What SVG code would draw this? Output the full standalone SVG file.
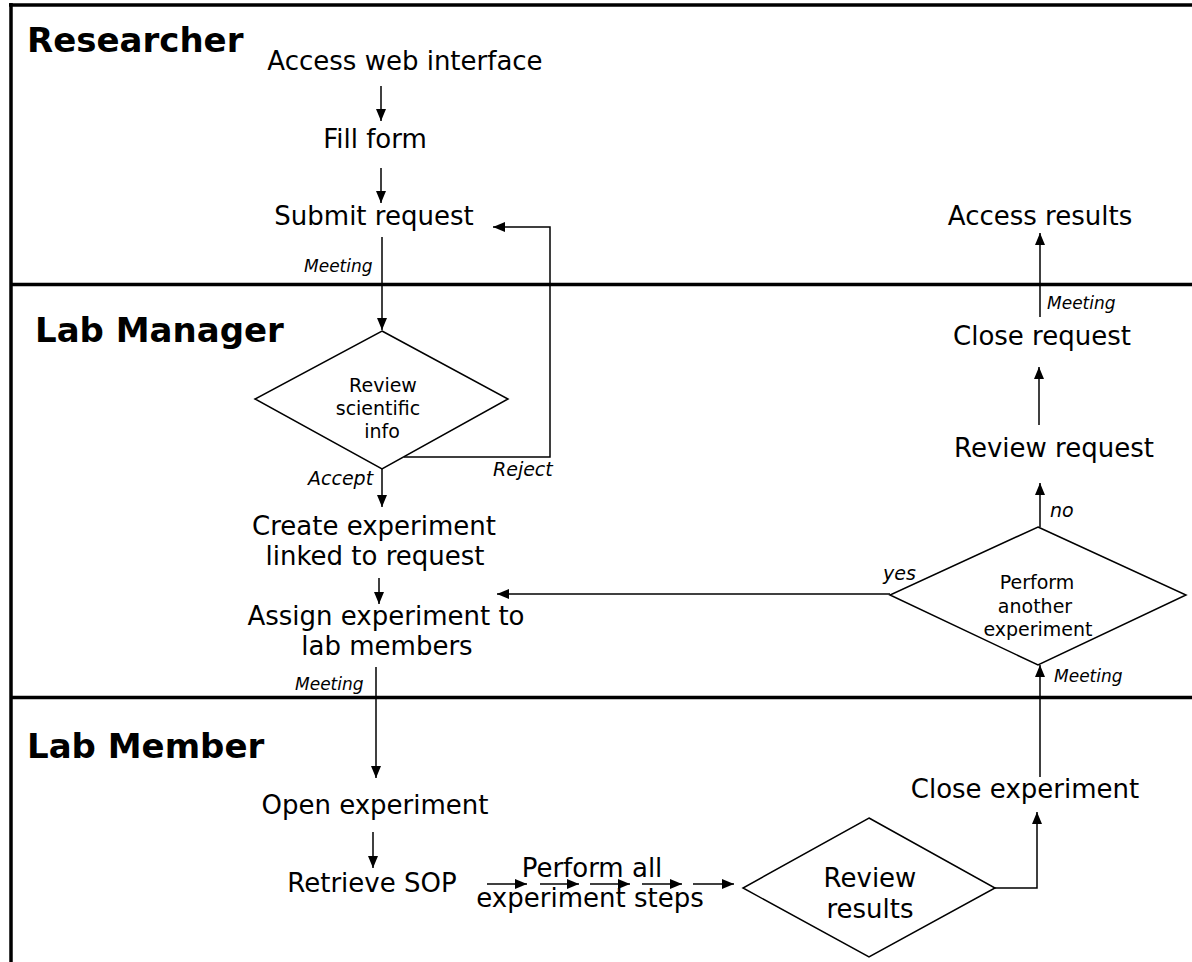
<svg xmlns="http://www.w3.org/2000/svg" width="1192" height="962" viewBox="0 0 1192 962">
<style>
  .lane { font-family: "DejaVu Sans", sans-serif; font-weight: bold; font-size: 34px; fill: #000; }
  .t { font-family: "DejaVu Sans", sans-serif; font-size: 26px; fill: #000; text-anchor: middle; }
  .d { font-family: "DejaVu Sans", sans-serif; font-size: 19px; fill: #000; text-anchor: middle; }
  .lbl { font-family: "DejaVu Sans", sans-serif; font-style: italic; font-size: 19px; fill: #000; }
  .mt { font-family: "DejaVu Sans", sans-serif; font-style: italic; font-size: 17px; fill: #000; }
  .sep { stroke: #000; stroke-width: 3.5; fill: none; }
  .shape { fill: #fff; stroke: #000; stroke-width: 1.5; }
  .c { stroke: #000; stroke-width: 1.5; fill: none; }
  .ca { stroke: #000; stroke-width: 1.5; fill: none; marker-end: url(#ah); }
</style>
<defs>
  <marker id="ah" viewBox="0 0 12 10" refX="12" refY="5" markerWidth="12" markerHeight="10" markerUnits="userSpaceOnUse" orient="auto">
    <path d="M0,0 L12,5 L0,10 z" fill="#000"/>
  </marker>
</defs>
<rect x="0" y="0" width="1192" height="962" fill="#fff"/>
<g id="frame">
  <line class="sep" x1="9" y1="5" x2="1192" y2="5"/>
  <line class="sep" x1="11" y1="3" x2="11" y2="962"/>
  <line class="sep" x1="11" y1="284.5" x2="1192" y2="284.5"/>
  <line class="sep" x1="11" y1="697.5" x2="1192" y2="697.5"/>
</g>
<g id="lanes">
  <text class="lane" x="27" y="52">Researcher</text>
  <text class="lane" x="35" y="342">Lab Manager</text>
  <text class="lane" x="27" y="758">Lab Member</text>
</g>
<g id="connectors">
  <line class="ca" x1="381" y1="86" x2="381" y2="121"/>
  <line class="ca" x1="381" y1="168" x2="381" y2="203"/>
  <line class="ca" x1="382" y1="237" x2="382" y2="330"/>
  <polyline class="ca" points="404,457 550,457 550,227 493,227"/>
  <line class="ca" x1="382" y1="469" x2="382" y2="507"/>
  <line class="ca" x1="379" y1="578" x2="379" y2="604"/>
  <line class="ca" x1="376" y1="667" x2="376" y2="778"/>
  <line class="ca" x1="373" y1="832" x2="373" y2="868"/>
  <line class="ca" x1="487" y1="884" x2="527" y2="884"/>
  <line class="ca" x1="540" y1="884" x2="579" y2="884"/>
  <line class="ca" x1="590" y1="884" x2="630" y2="884"/>
  <line class="ca" x1="642" y1="884" x2="682" y2="884"/>
  <line class="ca" x1="693" y1="884" x2="734" y2="884"/>
  <polyline class="ca" points="995,888 1037,888 1037,812"/>
  <line class="ca" x1="1040" y1="777" x2="1040" y2="665"/>
  <line class="ca" x1="890" y1="594" x2="497" y2="594"/>
  <line class="ca" x1="1040" y1="527" x2="1040" y2="483"/>
  <line class="ca" x1="1039" y1="425" x2="1039" y2="367"/>
  <line class="ca" x1="1040" y1="317" x2="1040" y2="233"/>
  <text class="mt" x="304" y="272">Meeting</text>
  <text class="lbl" x="308" y="485">Accept</text>
  <text class="lbl" x="493" y="476">Reject</text>
  <text class="mt" x="295" y="690">Meeting</text>
  <text class="lbl" x="883" y="580">yes</text>
  <text class="lbl" x="1050" y="517">no</text>
  <text class="mt" x="1047" y="309">Meeting</text>
  <text class="mt" x="1054" y="682">Meeting</text>
</g>
<g id="access-web"><text class="t" x="405" y="70">Access web interface</text></g>
<g id="fill-form"><text class="t" x="375" y="148">Fill form</text></g>
<g id="submit-request"><text class="t" x="374" y="225">Submit request</text></g>
<g id="review-scientific">
  <polygon class="shape" points="382,331 508,399 382,469 255,399"/>
  <text class="d" x="383" y="392">Review</text>
  <text class="d" x="378" y="415">scientific</text>
  <text class="d" x="382" y="438">info</text>
</g>
<g id="create-experiment">
  <text class="t" x="374" y="535">Create experiment</text>
  <text class="t" x="375" y="565">linked to request</text>
</g>
<g id="assign-experiment">
  <text class="t" x="386" y="625">Assign experiment to</text>
  <text class="t" x="387" y="655">lab members</text>
</g>
<g id="open-experiment"><text class="t" x="375" y="814">Open experiment</text></g>
<g id="retrieve-sop"><text class="t" x="372" y="892">Retrieve SOP</text></g>
<g id="perform-steps">
  <text class="t" x="592" y="877">Perform all</text>
  <text class="t" x="590" y="907">experiment steps</text>
</g>
<g id="review-results">
  <polygon class="shape" points="869,818 995,888 869,957 743,888"/>
  <text class="t" x="870" y="887">Review</text>
  <text class="t" x="870" y="918">results</text>
</g>
<g id="close-experiment"><text class="t" x="1025" y="798">Close experiment</text></g>
<g id="perform-another">
  <polygon class="shape" points="1038,527 1186,595 1038,665 890,595"/>
  <text class="d" x="1037" y="589">Perform</text>
  <text class="d" x="1035" y="613">another</text>
  <text class="d" x="1038" y="636">experiment</text>
</g>
<g id="review-request"><text class="t" x="1054" y="457">Review request</text></g>
<g id="close-request"><text class="t" x="1042" y="345">Close request</text></g>
<g id="access-results"><text class="t" x="1040" y="225">Access results</text></g>
</svg>
